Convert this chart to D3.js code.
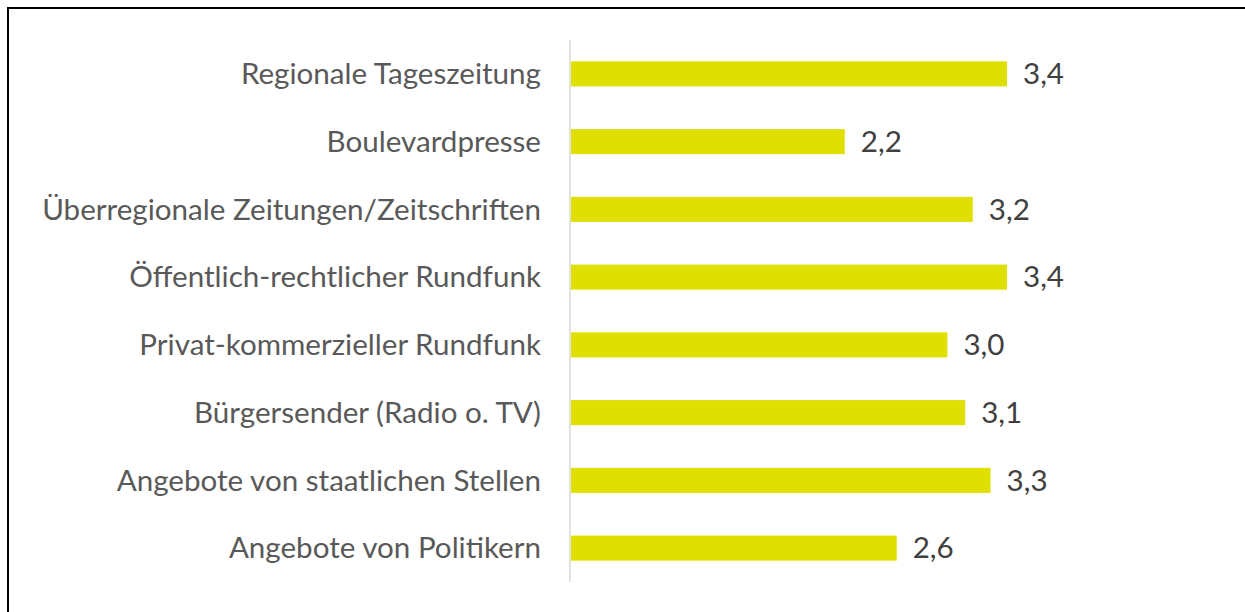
<!DOCTYPE html>
<html>
<head>
<meta charset="utf-8">
<script src="https://cdn.jsdelivr.net/npm/d3@7"></script>
<style>
  html, body { margin: 0; padding: 0; background: #fff; overflow: hidden; }
  svg { display: block; }
  .cat text { font-family: Lato, "Noto Sans", sans-serif; fill: #595959; }
  .val { font-family: Lato, "Noto Sans", sans-serif; fill: #404040; }
</style>
</head>
<body>
<svg id="chart"></svg>
<script>
// Kategorien (von oben nach unten) und Mittelwerte
const categories = [
  'Regionale Tageszeitung',
  'Boulevardpresse',
  'Überregionale Zeitungen/Zeitschriften',
  'Öffentlich-rechtlicher Rundfunk',
  'Privat-kommerzieller Rundfunk',
  'Bürgersender (Radio o. TV)',
  'Angebote von staatlichen Stellen',
  'Angebote von Politikern',
];
const values = [3.44, 2.16, 3.17, 3.44, 2.97, 3.11, 3.31, 2.57];

const W = 1245, H = 612;
const svg = d3.select('#chart').attr('width', W).attr('height', H);

// Rahmen (rechts/unten außerhalb des Bildes)
svg.append('rect')
  .attr('x', 8).attr('y', 8)
  .attr('width', W + 20).attr('height', H + 20)
  .attr('fill', 'none').attr('stroke', '#000').attr('stroke-width', 2);

const x0 = 571;
const x = d3.scaleLinear().domain([0, 3.44]).range([x0, 1007]);
const y = d3.scaleBand().domain(categories).range([40, 582]).paddingInner(0.63).paddingOuter(0.315);

const de = d3.formatLocale({decimal: ',', thousands: '.', grouping: [3], currency: ['', ' €']});
const fmt = de.format('.1f');

// Balken
svg.append('g').selectAll('rect').data(categories).join('rect')
  .attr('x', x(0))
  .attr('y', d => y(d))
  .attr('width', (d, i) => x(values[i]) - x(0))
  .attr('height', y.bandwidth())
  .attr('fill', '#dfdf00');

// Kategorieachse
const ax = svg.append('g').attr('class', 'cat')
  .attr('transform', `translate(${x0 - 1},0)`)
  .call(d3.axisLeft(y).tickSize(0).tickPadding(29));
ax.select('.domain').attr('stroke', '#d9d9d9').attr('stroke-width', 1.5)
  .attr('d', 'M0,40V582');

// Schriftgröße so wählen, dass das längste Label ~497px breit ist
ax.selectAll('text').attr('font-size', 24);
let maxLen = 0;
ax.selectAll('text').each(function() { maxLen = Math.max(maxLen, this.getComputedTextLength()); });
const fs = 24 * 499 / maxLen;
ax.selectAll('text').attr('font-size', fs).attr('dy', '0.35em');

// Wertbeschriftungen
svg.append('g').selectAll('text').data(categories).join('text')
  .attr('class', 'val')
  .attr('x', (d, i) => x(values[i]) + 16)
  .attr('y', d => y(d) + y.bandwidth() / 2)
  .attr('dy', '0.35em')
  .attr('font-size', fs)
  .text((d, i) => fmt(values[i]));
</script>
</body>
</html>
